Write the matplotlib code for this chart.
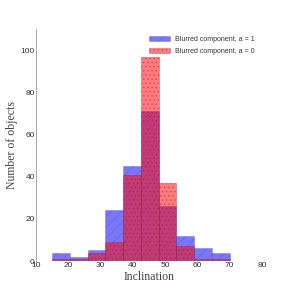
import matplotlib
matplotlib.use("Agg")
import matplotlib.pyplot as plt
import numpy as np

# histogram edges and counts
bin_edges = [15, 20.5, 26, 31.5, 37, 42.5, 48, 53.5, 59, 64.5, 70]
counts_a1 = [4, 2, 5, 24, 45, 71, 26, 12, 6, 4]
counts_a0 = [1, 1, 4, 9, 41, 97, 37, 7, 1, 1]
label_a1 = "Blurred component, a = 1"
label_a0 = "Blurred component, a = 0"

plt.rcParams['hatch.linewidth'] = 0.4

fig = plt.figure(figsize=(2.91, 2.91), dpi=100)
ax = fig.add_axes([0.124, 0.103, 0.776, 0.797])

centers = [(bin_edges[i] + bin_edges[i + 1]) / 2 for i in range(len(bin_edges) - 1)]
ax.hist(centers, bins=bin_edges, weights=counts_a1, color=(0.05, 0.05, 0.95, 0.56),
        edgecolor=(0.3, 0.3, 0.8, 0.5), hatch='///', linewidth=0.4, label=label_a1)
ax.hist(centers, bins=bin_edges, weights=counts_a0, color=(1, 0.05, 0.05, 0.55),
        edgecolor=(0.6, 0.1, 0.2, 0.5), hatch='....', linewidth=0.4, label=label_a0)

ax.set_xlim(10, 80)
ax.set_ylim(0, 110)
ax.set_xticks(np.arange(10, 81, 10))
ax.set_yticks(np.arange(0, 101, 20))
ax.tick_params(length=0, labelsize=6, pad=1, colors='#333333')
for lab in ax.get_xticklabels() + ax.get_yticklabels():
    lab.set_family('Liberation Sans')
for s in ['top', 'right', 'bottom']:
    ax.spines[s].set_visible(False)
ax.spines['left'].set_color('#999999')
ax.spines['left'].set_linewidth(0.6)

ax.set_xlabel("Inclination", family='Liberation Serif', fontsize=8.5, color='#444444', labelpad=1)
ax.set_ylabel("Number of objects", family='Liberation Serif', fontsize=8.5, color='#444444', labelpad=2)

leg = ax.legend(loc='upper right', frameon=False, fontsize=5, handlelength=3,
                labelspacing=0.7, borderaxespad=0.6)
for t in leg.get_texts():
    t.set_family('Liberation Sans')
    t.set_color('#333333')

fig.savefig("out.png", dpi=100)
